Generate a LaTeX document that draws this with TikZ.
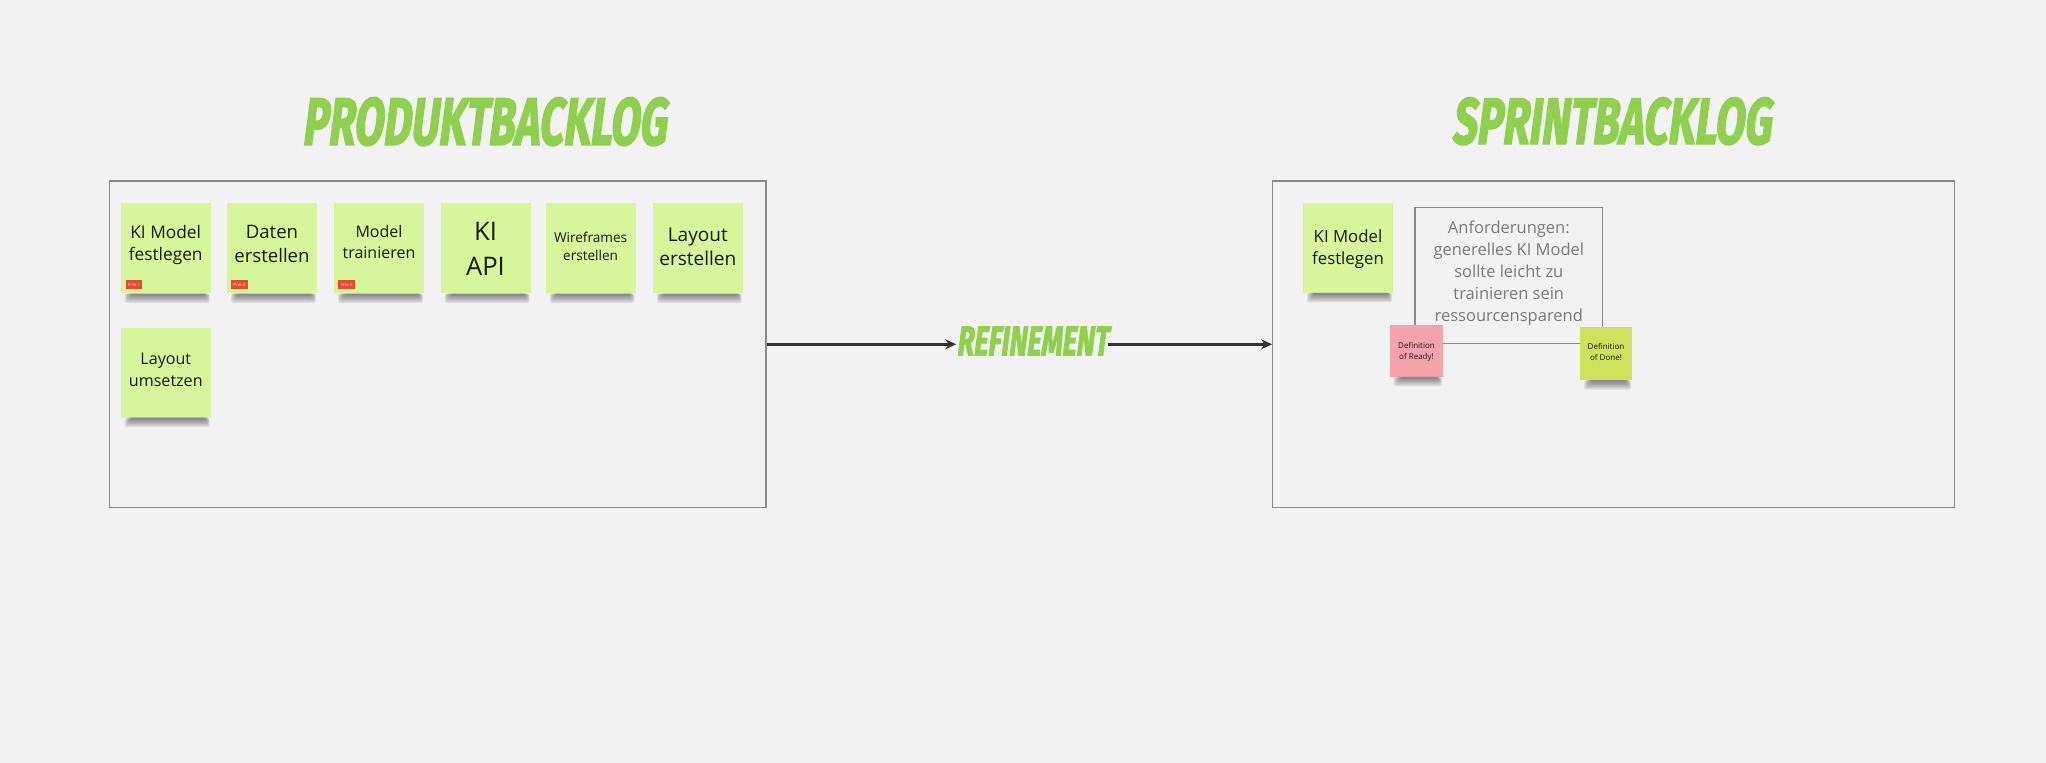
\documentclass[tikz,border=0pt]{standalone}
\usepackage{fontspec}
\setmainfont{Open Sans}
\newfontfamily\notefont{Open Sans}
\newfontfamily\titlefont[FakeSlant=0.2,FakeBold=3]{Fira Sans}
\usetikzlibrary{arrows.meta}
\definecolor{bgc}{HTML}{F2F2F2}
\definecolor{framec}{HTML}{8A8A8A}
\definecolor{stickyc}{HTML}{D7F59B}
\definecolor{readyc}{HTML}{F4A3AB}
\definecolor{donec}{HTML}{CDE15C}
\definecolor{titlec}{HTML}{8FD14F}
\definecolor{tagc}{HTML}{E5492E}
\definecolor{notetextc}{HTML}{1A1A1A}
\definecolor{reqtextc}{HTML}{7A7A7A}
\definecolor{arrowc}{HTML}{333333}
\newcommand{\fsz}[2]{\fontsize{#1}{#2}\selectfont}
\tikzset{
  frame/.style={draw=framec, line width=1.2pt, fill=bgc, inner sep=0pt},
  sticky/.style={fill=stickyc, minimum width=90pt, minimum height=90pt, inner sep=0pt},
  smallsticky/.style={inner sep=0pt},
  notetext/.style={align=center, text=notetextc, inner sep=0pt},
  tag/.style={fill=tagc, text=white, minimum width=16.6pt, minimum height=9pt, inner sep=0pt, font=\notefont\fsz{4.3}{5}},
  title/.style={text=titlec, inner sep=0pt},
  conn/.style={draw=arrowc, line width=2.6pt, -{Stealth[length=11pt,width=10pt]}},
  shadowlayer/.style={fill=black, fill opacity=0.085, rounded corners=1.5pt},
}
\newcommand{\dropshade}[1]{%
  \foreach \k in {1,...,6} {%
    \fill[shadowlayer] ([xshift={3pt+1.2pt*\k}]#1.south west) rectangle ([xshift={-0.5pt-0.8pt*\k},yshift={-11pt+1.5pt*\k}]#1.south east);
  }}
\begin{document}
\begin{tikzpicture}[x=1pt,y=-1pt]
\fill[bgc] (0,0) rectangle (2046,763);
\useasboundingbox (0,0) rectangle (2046,763);

% titles
\node[title] (tpb) at (484,121.6) {\resizebox{364pt}{47pt}{\titlefont\bfseries PRODUKTBACKLOG}};
\node[title] (tsb) at (1611.2,121.2) {\resizebox{319pt}{46pt}{\titlefont\bfseries SPRINTBACKLOG}};

% frames
\node[frame, minimum width=656.4pt, minimum height=326.6pt] (fr1) at (437.8,344.3) {};
\node[frame, minimum width=681.9pt, minimum height=326.6pt] (fr2) at (1613.65,344.3) {};

% product backlog notes
\node[sticky] (n1) at (165.7,248.3) {};
\node[sticky] (n2) at (272,248.3) {};
\node[sticky] (n3) at (379,248.3) {};
\node[sticky] (n4) at (485.5,248.3) {};
\node[sticky] (n5) at (590.6,248.3) {};
\node[sticky] (n6) at (697.8,248.3) {};
\node[sticky] (n7) at (165.8,372.5) {};
\foreach \n in {n1,n2,n3,n4,n5,n6,n7} {\dropshade{\n}}

\node[notetext, font=\notefont\fsz{17.3}{22.5}] (t1) at (165.7,245) {KI Model\\festlegen};
\node[notetext, font=\notefont\fsz{18.6}{24}] (t2) at (272,243.8) {Daten\\erstellen};
\node[notetext, font=\notefont\fsz{16}{21}] (t3) at (379,241.7) {Model\\trainieren};
\node[notetext, font=\notefont\fsz{25.6}{35}] (t4) at (485.5,248.4) {KI\\API};
\node[notetext, font=\notefont\fsz{13.6}{18.7}] (t5) at (590.6,246.4) {Wireframes\\erstellen};
\node[notetext, font=\notefont\fsz{19}{24}] (t6) at (697.8,246.8) {Layout\\erstellen};
\node[notetext, font=\notefont\fsz{16.1}{21.7}] (t7) at (165.8,370) {Layout\\umsetzen};

\node[tag] (p1) at (134,284.5) {Prio 1};
\node[tag] (p2) at (239.3,284.5) {Prio 2};
\node[tag] (p3) at (346.7,284.5) {Prio 3};

% sprint backlog
\node[sticky] (r1) at (1348,247.7) {};
\dropshade{r1}
\node[notetext, font=\notefont\fsz{16.8}{22}] (tr1) at (1348,249.3) {KI Model\\festlegen};

\node[draw=framec, line width=1.2pt, minimum width=187.7pt, minimum height=136pt, inner sep=0pt] (req) at (1508.9,275.3) {};
\node[align=center, text=reqtextc, inner sep=0pt, font=\notefont\fsz{16.5}{22}] (reqt) at (1508.8,273) {Anforderungen:\\generelles KI Model\\sollte leicht zu\\trainieren sein\\ressourcensparend};

\node[smallsticky, fill=readyc, minimum width=53pt, minimum height=51.7pt] (rd) at (1416.5,350.8) {};
\node[smallsticky, fill=donec, minimum width=51.7pt, minimum height=53.3pt] (dn) at (1606,353.3) {};
\dropshade{rd}
\dropshade{dn}
\node[notetext, font=\notefont\fsz{8}{11.7}] (trd) at (1416.5,352) {Definition\\of Ready!};
\node[notetext, font=\notefont\fsz{8}{11.7}] (tdn) at (1606,352) {Definition\\of Done!};

% refinement
\node[title] (ref) at (1032.2,340.9) {\resizebox{151.5pt}{28.5pt}{\titlefont\bfseries REFINEMENT}};
\draw[conn] (fr1.east) -- (fr1.east -| ref.west);
\draw[conn] (ref.east |- fr1.east) -- (fr2.west);
\end{tikzpicture}
\end{document}
